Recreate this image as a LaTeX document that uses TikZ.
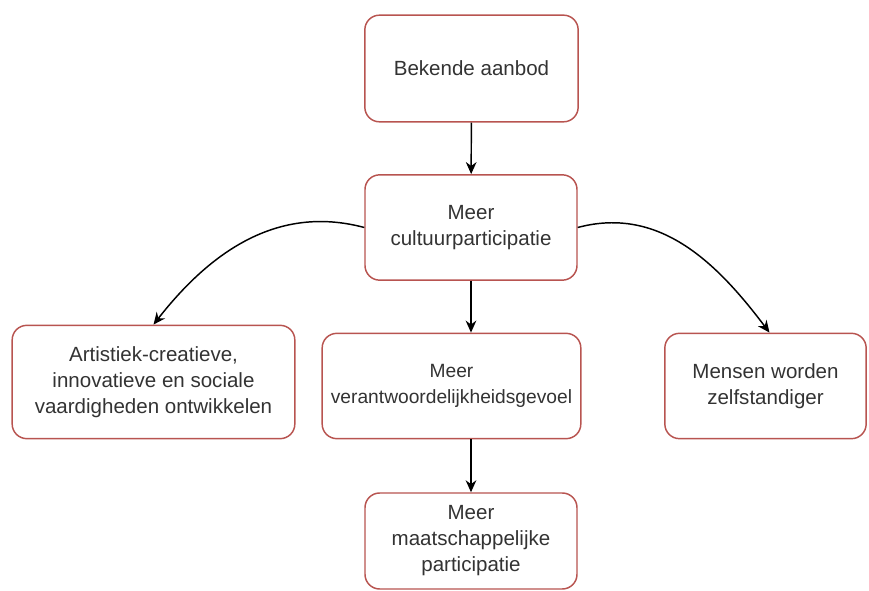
\documentclass[tikz,border=0pt]{standalone}
\usepackage{fontspec}
\setmainfont{Liberation Sans}
\usepackage{xcolor}
\usetikzlibrary{arrows.meta}

\definecolor{boxred}{RGB}{184,84,80}
\definecolor{txtgray}{RGB}{51,51,51}

\begin{document}
\begin{tikzpicture}[x=0.75pt,y=-0.75pt]
%style for the boxes
\tikzstyle{effbox} = [rectangle, rounded corners=11pt, draw=boxred, fill=white, line width=1.1pt,
  text=txtgray, align=center, inner sep=0pt,
  font=\fontsize{15.4}{19.5}\selectfont]

%style for the arrows
\tikzstyle{arr} = [-{Stealth[length=9pt,width=8pt]}, line width=1.1pt, black]

\useasboundingbox (0,0) rectangle (869,591);

%place nodes
\node[effbox, minimum width=160pt, minimum height=80pt](aanbod) at (471.5,68.5) {Bekende aanbod};
\node[effbox, minimum width=159pt, minimum height=79pt](cultuur) at (471,227.5) {Meer\\cultuurparticipatie};
\node[effbox, minimum width=212pt, minimum height=85pt](artist) at (153.5,382) {Artistiek-creatieve,\\innovatieve en sociale\\vaardigheden ontwikkelen};
\node[effbox, minimum width=194pt, minimum height=79pt, font=\fontsize{14.4}{19.5}\selectfont](verantw) at (451.5,386) {Meer\\verantwoordelijkheidsgevoel};
\node[effbox, minimum width=151pt, minimum height=79pt](zelfst) at (765.5,386) {Mensen worden\\zelfstandiger};
\node[effbox, minimum width=159pt, minimum height=72pt](maatsch) at (471,541) {Meer\\maatschappelijke\\participatie};

%connect nodes with lines
\draw[arr] (aanbod) -- (cultuur);
\draw[arr] (cultuur.south) -- (cultuur.south |- verantw.north);
\draw[arr] (maatsch.north |- verantw.south) -- (maatsch.north);
\draw[arr] (cultuur.west) to[out=165, in=52] (artist.north);
\draw[arr] (cultuur.east) to[out=15, in=127] ([xshift=3pt]zelfst.north);
\end{tikzpicture}
\end{document}
